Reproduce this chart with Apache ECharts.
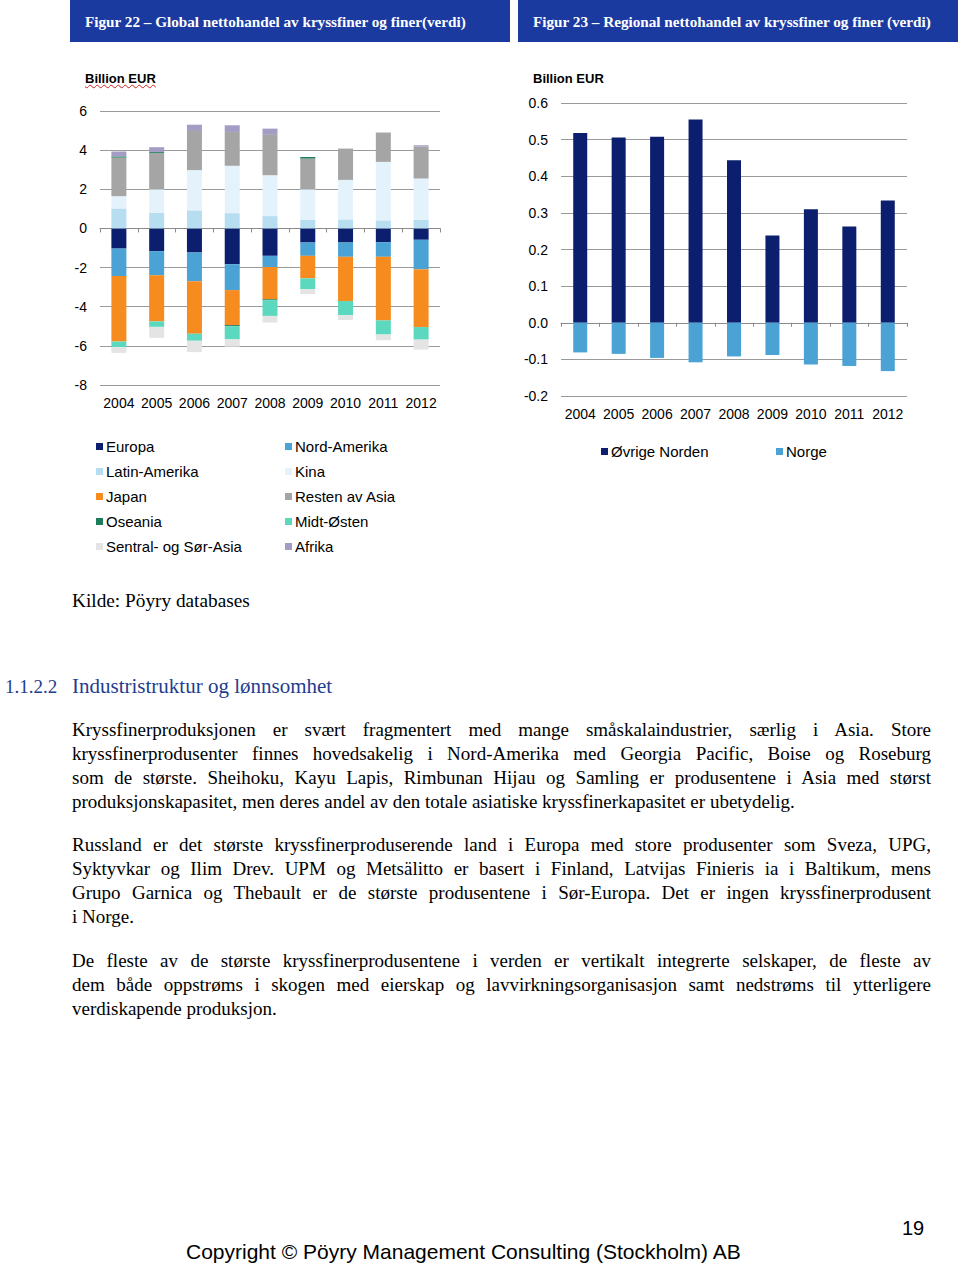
<!DOCTYPE html>
<html>
<head>
<meta charset="utf-8">
<script src="https://cdn.jsdelivr.net/npm/echarts@6/dist/echarts.min.js"></script>
<style>
  html, body { margin:0; padding:0; background:#fff; }
  body { width:960px; height:1267px; position:relative; overflow:hidden; }
  .hdr { position:absolute; top:0; height:42px; background:#1a3aa0; color:#fff;
         font-family:"Liberation Serif", serif; font-weight:bold; font-size:15.2px;
         line-height:43px; padding-left:15px; box-sizing:border-box; white-space:nowrap; }
  .unit { position:absolute; top:71px; font-family:"Liberation Sans", Arial, sans-serif;
          font-weight:bold; font-size:13px; color:#000; }
  .serif { font-family:"Liberation Serif", "Times New Roman", serif; position:absolute; white-space:nowrap; }
  .para { position:absolute; left:72px; width:859px; font-family:"Liberation Serif", serif;
          font-size:19px; line-height:24px; color:#000; }
  .para span { display:block; text-align:justify; text-align-last:justify; white-space:nowrap; }
  .para span.last { text-align-last:left; }
  #chart { position:absolute; left:0; top:0; width:960px; height:580px; }
</style>
</head>
<body>
<div class="hdr" style="left:70px;width:440px;">Figur 22 – Global nettohandel av kryssfiner og finer(verdi)</div>
<div class="hdr" style="left:518px;width:440px;">Figur 23 – Regional nettohandel av kryssfiner og finer (verdi)</div>
<div id="chart"></div>
<div class="unit" style="left:85px;text-decoration:underline wavy #d02020;text-decoration-thickness:1px;">Billion EUR</div>
<div class="unit" style="left:533px;">Billion EUR</div>

<div class="serif" style="left:72px;top:590px;font-size:19.3px;">Kilde: Pöyry databases</div>
<div class="serif" style="left:5px;top:676px;font-size:19px;color:#1f3d8f;">1.1.2.2</div>
<div class="serif" style="left:72px;top:674px;font-size:21px;color:#1f3d8f;">Industristruktur og lønnsomhet</div>

<div class="para" style="top:718px;">
<span>Kryssfinerproduksjonen er svært fragmentert med mange småskalaindustrier, særlig i Asia. Store</span>
<span>kryssfinerprodusenter finnes hovedsakelig i Nord-Amerika med Georgia Pacific, Boise og Roseburg</span>
<span>som de største. Sheihoku, Kayu Lapis, Rimbunan Hijau og Samling er produsentene i Asia med størst</span>
<span class="last">produksjonskapasitet, men deres andel av den totale asiatiske kryssfinerkapasitet er ubetydelig.</span>
</div>
<div class="para" style="top:833px;">
<span>Russland er det største kryssfinerproduserende land i Europa med store produsenter som Sveza, UPG,</span>
<span>Syktyvkar og Ilim Drev. UPM og Metsälitto er basert i Finland, Latvijas Finieris ia i Baltikum, mens</span>
<span>Grupo Garnica og Thebault er de største produsentene i Sør-Europa. Det er ingen kryssfinerprodusent</span>
<span class="last">i Norge.</span>
</div>
<div class="para" style="top:949px;">
<span>De fleste av de største kryssfinerprodusentene i verden er vertikalt integrerte selskaper, de fleste av</span>
<span>dem både oppstrøms i skogen med eierskap og lavvirkningsorganisasjon samt nedstrøms til ytterligere</span>
<span class="last">verdiskapende produksjon.</span>
</div>

<div style="position:absolute;left:902px;top:1217px;font-family:'Liberation Sans',Arial,sans-serif;font-size:20px;">19</div>
<div style="position:absolute;left:186px;top:1240px;font-family:'Liberation Sans',Arial,sans-serif;font-size:21px;white-space:nowrap;">Copyright © Pöyry Management Consulting (Stockholm) AB</div>

<script>
// ---- Data ----
const years = ['2004','2005','2006','2007','2008','2009','2010','2011','2012'];
// Figur 22 (Billion EUR)
const europa       = [-1.03,-1.16,-1.23,-1.83,-1.40,-0.72,-0.72,-0.70,-0.58];
const nordAmerika  = [-1.40,-1.23,-1.47,-1.32,-0.57,-0.68,-0.73,-0.75,-1.51];
const latinAmerika = [1.02,0.80,0.92,0.78,0.63,0.44,0.46,0.41,0.44];
const kina         = [0.63,1.20,2.06,2.42,2.09,1.56,2.02,2.99,2.11];
const japan        = [-3.35,-2.36,-2.68,-1.79,-1.65,-1.15,-2.26,-3.25,-2.95];
const restenAsia   = [1.97,1.85,2.00,1.73,2.06,1.57,1.60,1.50,1.63];
const oseania      = [0.06,0.05,0.00,-0.06,-0.05,0.08,0.00,0.00,0.00];
const midtOsten    = [-0.29,-0.28,-0.36,-0.67,-0.80,-0.56,-0.72,-0.72,-0.64];
const sentralAsia  = [-0.29,-0.56,-0.58,-0.37,-0.34,-0.24,-0.25,-0.29,-0.51];
const afrika       = [0.25,0.25,0.32,0.34,0.32,0.00,0.00,0.00,0.07];
// Figur 23 (Billion EUR)
const ovrigeNorden = [0.518,0.506,0.508,0.555,0.444,0.238,0.310,0.263,0.334];
const norge        = [-0.081,-0.085,-0.096,-0.108,-0.092,-0.088,-0.114,-0.118,-0.132];
const leftTicks  = {min:-8, max:6, interval:2};
const rightTicks = {min:-0.2, max:0.6, interval:0.1};

const C = {
  europa:'#0c1f6e', nord:'#4aa3d4', latin:'#b7ddf1', kina:'#e4f3fb', japan:'#f68b1f',
  resten:'#a5a5a5', oseania:'#1b7d5c', midt:'#5bd8bd', sentral:'#e4e4e4', afrika:'#a39dc3'
};
const FONT = '"Liberation Sans", Arial, sans-serif';

const chart = echarts.init(document.getElementById('chart'), null, {renderer:'svg'});

function stackSeries(name, data, color) {
  return { name, type:'bar', stack:'t', xAxisIndex:0, yAxisIndex:0, data, barWidth:15,
           itemStyle:{color}, emphasis:{disabled:true}, animation:false };
}
function legendCol(left, top, names) {
  return { left, top, padding:0, orient:'vertical', itemWidth:7, itemHeight:7, itemGap:10,
           icon:'rect', data:names, selectedMode:false,
           textStyle:{fontFamily:FONT, fontSize:15, color:'#000', lineHeight:15, padding:[0,0,0,-2]} };
}
const yCommon = {
  type:'value', axisLine:{show:false}, axisTick:{show:false},
  splitLine:{lineStyle:{color:'#9a9a9a', width:1}},
  axisLabel:{fontFamily:FONT, fontSize:14, color:'#000', margin:13}
};
const xLabelAxis = (grid) => ({
  type:'category', gridIndex:grid, data:years, position:'bottom',
  axisLine:{show:false, onZero:false}, axisTick:{show:false},
  axisLabel:{fontFamily:FONT, fontSize:14, color:'#000', margin:11, interval:0}
});
const xZeroAxis = (grid, yIdx) => ({
  type:'category', gridIndex:grid, data:years, position:'bottom',
  axisLine:{show:true, onZero:true, onZeroAxisIndex:yIdx, lineStyle:{color:'#8a8a8a', width:1}},
  axisTick:{show:true, length:4, lineStyle:{color:'#8a8a8a'}},
  axisLabel:{show:false}
});

chart.setOption({
  animation:false,
  grid:[
    {left:100, top:111, width:340, height:274, outerBoundsMode:'none'},
    {left:561, top:103, width:346, height:293, outerBoundsMode:'none'}
  ],
  xAxis:[ xLabelAxis(0), xZeroAxis(0,0), xLabelAxis(1), xZeroAxis(1,1) ],
  yAxis:[
    Object.assign({}, yCommon, {gridIndex:0, min:leftTicks.min, max:leftTicks.max, interval:leftTicks.interval}),
    Object.assign({}, yCommon, {gridIndex:1, min:rightTicks.min, max:rightTicks.max, interval:rightTicks.interval,
      axisLabel:Object.assign({}, yCommon.axisLabel, {formatter:v => v.toFixed(1)})})
  ],
  legend:[
    legendCol(96, 439, ['Europa','Latin-Amerika','Japan','Oseania','Sentral- og Sør-Asia']),
    legendCol(285, 439, ['Nord-Amerika','Kina','Resten av Asia','Midt-Østen','Afrika']),
    legendCol(601, 444, ['Øvrige Norden']),
    legendCol(776, 444, ['Norge'])
  ],
  series:[
    stackSeries('Europa', europa, C.europa),
    stackSeries('Nord-Amerika', nordAmerika, C.nord),
    stackSeries('Latin-Amerika', latinAmerika, C.latin),
    stackSeries('Kina', kina, C.kina),
    stackSeries('Japan', japan, C.japan),
    stackSeries('Resten av Asia', restenAsia, C.resten),
    stackSeries('Oseania', oseania, C.oseania),
    stackSeries('Midt-Østen', midtOsten, C.midt),
    stackSeries('Sentral- og Sør-Asia', sentralAsia, C.sentral),
    stackSeries('Afrika', afrika, C.afrika),
    { name:'Øvrige Norden', type:'bar', stack:'r', xAxisIndex:2, yAxisIndex:1, data:ovrigeNorden,
      barWidth:14, itemStyle:{color:C.europa}, emphasis:{disabled:true} },
    { name:'Norge', type:'bar', stack:'r', xAxisIndex:2, yAxisIndex:1, data:norge,
      barWidth:14, itemStyle:{color:C.nord}, emphasis:{disabled:true} }
  ]
});
</script>
</body>
</html>
